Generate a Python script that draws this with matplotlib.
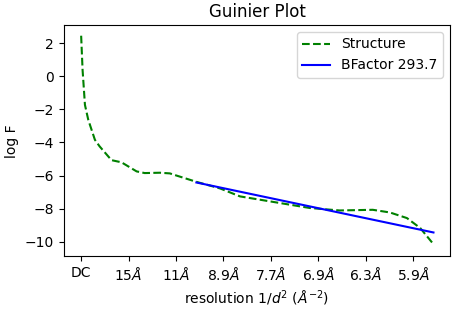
import matplotlib
matplotlib.use("Agg")
import matplotlib.pyplot as plt
import numpy as np

# resolution axis: 1/d^2 in units of tick spacing
step = 0.0042
tick_labels = ["DC", r"15$\AA$", r"11$\AA$", r"8.9$\AA$", r"7.7$\AA$", r"6.9$\AA$", r"6.3$\AA$", r"5.9$\AA$"]

structure_u = [0.0, 0.03, 0.08, 0.15, 0.29, 0.39, 0.64, 0.85, 1.17, 1.34, 1.66, 1.87, 2.01,
               2.43, 2.93, 3.35, 3.77, 4.40, 4.82, 5.45, 6.15, 6.51, 6.87, 7.15, 7.43]
structure_logf = [2.45, 0.39, -1.73, -2.63, -3.84, -4.24, -5.07, -5.2, -5.75, -5.85, -5.83, -5.87, -6.0,
                  -6.38, -6.78, -7.26, -7.46, -7.76, -7.96, -8.11, -8.07, -8.23, -8.57, -9.17, -10.15]

bfactor_u = [2.43, 7.43]
bfactor_logf = [-6.42, -9.44]
bfactor_label = "BFactor 293.7"

sx = np.array(structure_u) * step
bx = np.array(bfactor_u) * step

fig = plt.figure(figsize=(4.56, 3.12), dpi=100)
ax = fig.add_subplot(111)
fig.subplots_adjust(left=0.140, right=0.987, top=0.920, bottom=0.178)

ax.plot(sx, structure_logf, "g--", label="Structure")
ax.plot(bx, bfactor_logf, "b-", label=bfactor_label)

ax.set_xticks(np.arange(len(tick_labels)) * step)
ax.set_xticklabels(tick_labels)
ax.set_xlim(-0.365 * step, 7.78 * step)
ax.set_ylim(-10.89, 3.1)
ax.set_yticks([-10, -8, -6, -4, -2, 0, 2])

ax.set_title("Guinier Plot")
ax.set_xlabel(r"resolution 1/$d^2$ ($\AA^{-2}$)")
ax.set_ylabel("log F")
ax.legend(loc="upper right")

fig.savefig("out.png", dpi=100)
